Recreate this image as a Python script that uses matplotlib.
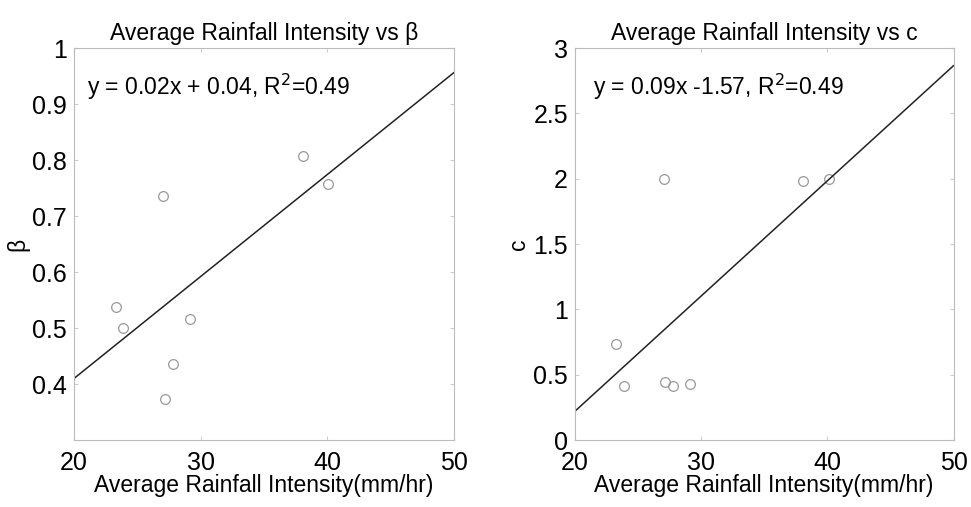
import matplotlib.pyplot as plt
import numpy as np

plt.rcParams['font.family'] = ['Liberation Sans', 'DejaVu Sans']

# Average rainfall intensity (mm/hr) for each event
x_beta = [23.3, 23.9, 27.05, 27.2, 27.8, 29.15, 38.1, 40.1]
beta = [0.537, 0.500, 0.736, 0.373, 0.436, 0.517, 0.807, 0.758]

x_c = [23.3, 23.9, 27.05, 27.15, 27.8, 29.1, 38.05, 40.1]
c_vals = [0.736, 0.417, 2.0, 0.445, 0.412, 0.427, 1.986, 2.0]

# fitted lines (slope, intercept) as drawn
fit_beta = (0.0182, 0.046)
fit_c = (0.0882, -1.544)

fig = plt.figure(figsize=(9.71, 5.07), dpi=100)
ax1 = fig.add_axes([0.0762, 0.132, 0.391, 0.773])
ax2 = fig.add_axes([0.592, 0.132, 0.390, 0.773])

panels = [
    (ax1, x_beta, beta, fit_beta, (0.3, 1), [0.4, 0.5, 0.6, 0.7, 0.8, 0.9, 1],
     ['0.4', '0.5', '0.6', '0.7', '0.8', '0.9', '1'],
     'Average Rainfall Intensity vs β', 'β',
     'y = 0.02x + 0.04, R$^2$=0.49', (21.0, 0.930)),
    (ax2, x_c, c_vals, fit_c, (0, 3), [0, 0.5, 1, 1.5, 2, 2.5, 3],
     ['0', '0.5', '1', '1.5', '2', '2.5', '3'],
     'Average Rainfall Intensity vs c', 'c',
     'y = 0.09x -1.57, R$^2$=0.49', (21.4, 2.70)),
]

for ax, xs, ys, fit, ylim, yt, ytl, title, ylabel, eq, pos in panels:
    ax.plot(xs, ys, 'o', mfc='none', mec='#999999', ms=7, mew=0.9)
    xx = np.array([20, 50])
    ax.plot(xx, fit[0] * xx + fit[1], color='#222222', lw=1.1)
    ax.set_xlim(20, 50)
    ax.set_ylim(*ylim)
    ax.set_xticks([20, 30, 40, 50])
    ax.set_yticks(yt)
    ax.set_yticklabels(ytl)
    ax.tick_params(direction='in', top=True, right=True, length=3,
                   color='#cccccc', labelsize=18, pad=5)
    ax.tick_params(axis='x', pad=8)
    for s in ax.spines.values():
        s.set_color('#bbbbbb')
    ax.set_title(title, fontsize=16.5, pad=6)
    ax.set_xlabel('Average Rainfall Intensity(mm/hr)', fontsize=16.5, labelpad=-1)
    ax.set_ylabel(ylabel, fontsize=16.5, labelpad=2)
    ax.text(pos[0], pos[1], eq, fontsize=16.5, va='center', ha='left')

fig.savefig('out.png', dpi=100)
